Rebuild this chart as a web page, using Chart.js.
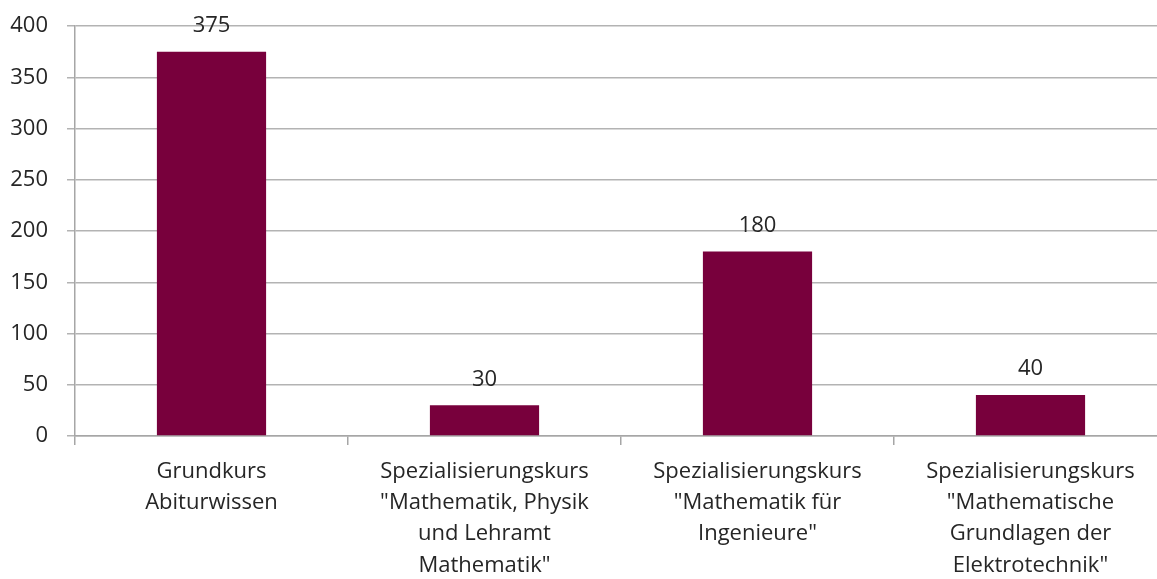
<!DOCTYPE html>
<html><head><meta charset="utf-8">
<script src="https://cdn.jsdelivr.net/npm/chart.js@4"></script>
<style>html,body{margin:0;padding:0;overflow:hidden;background:#fff}#wrap{width:1157px;height:579px;overflow:hidden}#wrap div{width:1168px;height:579px}</style>
</head><body><div id="wrap"><div><canvas id="c"></canvas></div></div>
<script>
const categories = [
  ["Grundkurs", "Abiturwissen"],
  ["Spezialisierungskurs", "\"Mathematik, Physik", "und Lehramt", "Mathematik\""],
  ["Spezialisierungskurs", "\"Mathematik für", "Ingenieure\""],
  ["Spezialisierungskurs", "\"Mathematische", "Grundlagen der", "Elektrotechnik\""]
];
const values = [375, 30, 180, 40];
const yTicks = [0, 50, 100, 150, 200, 250, 300, 350, 400];

const FONT = "'Open Sans', 'Liberation Sans', sans-serif";
const labelPlugin = {
  id: 'vals',
  afterDatasetsDraw(chart) {
    const ctx = chart.ctx;
    const meta = chart.getDatasetMeta(0);
    ctx.save();
    ctx.font = "22px " + FONT;
    ctx.fillStyle = "#262626";
    ctx.textAlign = "center";
    ctx.textBaseline = "bottom";
    meta.data.forEach((bar, i) => {
      ctx.fillText(String(values[i]), bar.x, bar.y - 15);
    });
    ctx.restore();
  }
};

new Chart(document.getElementById('c'), {
  type: 'bar',
  data: {
    labels: categories,
    datasets: [{ data: values, backgroundColor: '#78003c', borderWidth: 0, barPercentage: 0.4, categoryPercentage: 1 }]
  },
  options: {
    responsive: true, maintainAspectRatio: false, animation: false,
    layout: { padding: { top: 26, right: 1, left: 0, bottom: 0 } },
    plugins: { legend: { display: false }, tooltip: { enabled: false } },
    scales: {
      x: {
        grid: { display: true, drawOnChartArea: false, drawTicks: true, tickLength: 9, color: '#a6a6a6', lineWidth: 1.5, offset: true },
        border: { color: '#a6a6a6', width: 1.5 },
        ticks: { color: '#262626', font: { family: FONT, size: 22, lineHeight: 1.42 }, maxRotation: 0, autoSkip: false, padding: 11 },
        afterFit: s => { s.height = 579 - 436; s.paddingLeft = 0; s.paddingRight = 0; }
      },
      y: {
        min: 0, max: 400,
        afterBuildTicks: s => { s.ticks = yTicks.map(v => ({ value: v })); },
        grid: { color: '#b3b3b3', lineWidth: 1.5, tickLength: 8 },
        border: { color: '#a6a6a6', width: 1.5 },
        ticks: { color: '#262626', font: { family: FONT, size: 22 }, padding: 19 },
        afterFit: s => { s.width = 75; s.paddingTop = 0; s.paddingBottom = 0; }
      }
    }
  },
  plugins: [labelPlugin]
});
</script>
</body></html>
